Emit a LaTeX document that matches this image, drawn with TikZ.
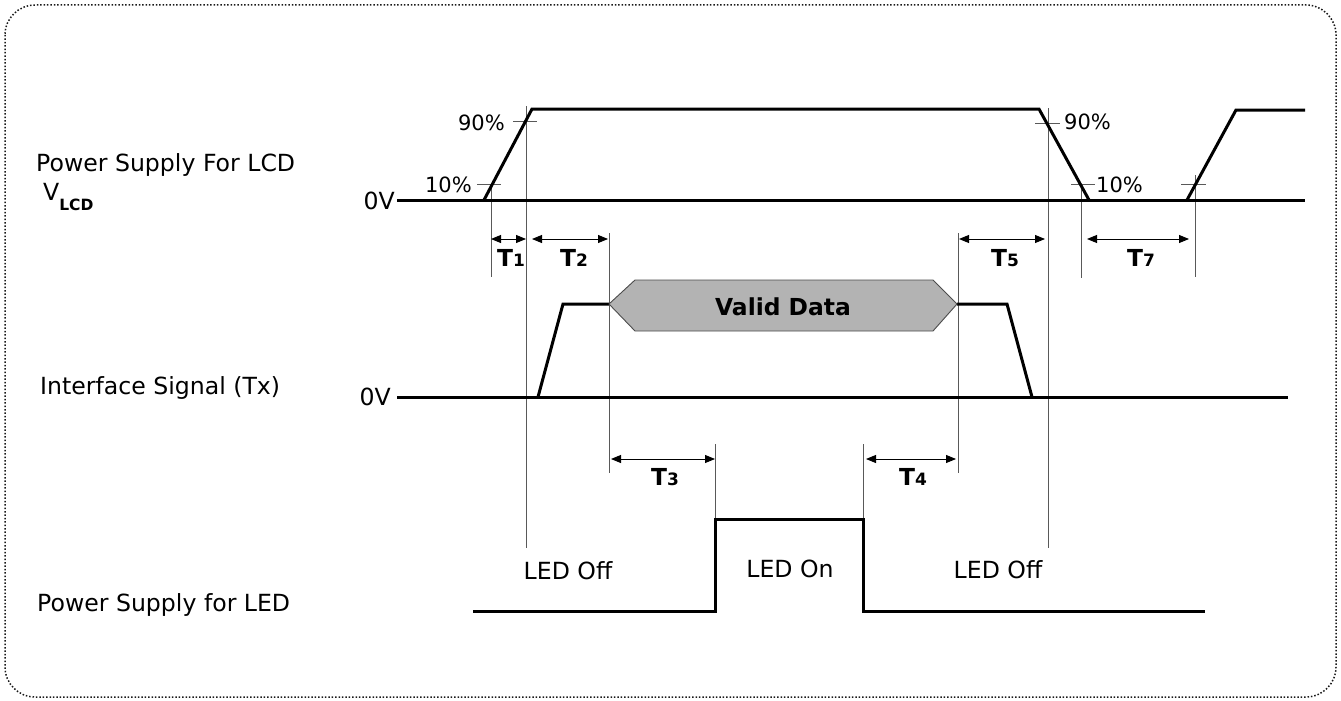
\documentclass[tikz,border=0pt]{standalone}
\usepackage{fontspec}
\setmainfont{DejaVu Sans}
\usetikzlibrary{arrows.meta}
\definecolor{datagray}{HTML}{B3B3B3}
\begin{document}
\begin{tikzpicture}[x=1pt,y=-1pt,
  wave/.style={line width=3pt, line join=miter, line cap=butt},
  guide/.style={line width=0.9pt, draw=black!65},
  dim/.style={line width=0.9pt, {Triangle[length=10pt,width=8pt]}-{Triangle[length=10pt,width=8pt]}},
  lbl/.style={font=\fontsize{23.6}{26}\selectfont, inner sep=0pt},
  pct/.style={font=\fontsize{21}{24}\selectfont, inner sep=0pt},
  tl/.style={font=\fontsize{23.4}{26}\selectfont\bfseries, inner sep=0pt}
]
\useasboundingbox (0,0) rectangle (1341,701);
\draw[black!90, line width=1.5pt, dash pattern=on 1.5pt off 1.9pt, rounded corners=30pt] (5,5) rectangle (1336,697);

% ---- left labels
\node[lbl, anchor=base west] (lcdlabel) at (36,171) {Power Supply For LCD};
\node[lbl, anchor=base west] (vlcd) at (43,200) {V\raisebox{-10pt}{\fontsize{15.5}{18}\selectfont\bfseries LCD}};
\node[lbl, anchor=base west] (iflabel) at (40,394) {Interface Signal (Tx)};
\node[lbl, anchor=base west] (ledlabel) at (37,611) {Power Supply for LED};

% ---- 0V labels
\node[lbl, anchor=base east] (zv1) at (395,209) {0V};
\node[lbl, anchor=base east] (zv2) at (391,405) {0V};

% ---- percentage labels
\node[pct, anchor=base east] (p90a) at (505,130) {90\%};
\node[pct, anchor=base east] (p10a) at (472,192) {10\%};
\node[pct, anchor=base west] (p90b) at (1064,129) {90\%};
\node[pct, anchor=base west] (p10b) at (1096,192) {10\%};

% ---- guide lines
\coordinate (g1t) at (491,184); \coordinate (g1b) at (491,277);
\coordinate (g2t) at (526,106); \coordinate (g2b) at (526,548);
\coordinate (g3t) at (609,233); \coordinate (g3b) at (609,473);
\coordinate (g4t) at (958,233); \coordinate (g4b) at (958,473);
\coordinate (g5t) at (1048,108); \coordinate (g5b) at (1048,548);
\coordinate (g6t) at (1081,184); \coordinate (g6b) at (1081,278);
\coordinate (g7t) at (1195,175); \coordinate (g7b) at (1195,277);
\coordinate (g8t) at (715,444); \coordinate (g8b) at (715,519);
\coordinate (g9t) at (863,444); \coordinate (g9b) at (863,519);
\foreach \g in {g1,g2,g3,g4,g5,g6,g7,g8,g9} \draw[guide] (\g t) -- (\g b);

% ---- ticks
\draw[guide] (477,184) -- (501,184);
\draw[guide] (513,121) -- (537,121);
\draw[guide] (1035,123) -- (1060,123);
\draw[guide] (1071,184) -- (1095,184);
\draw[guide] (1181,184) -- (1206,184);

% ---- dimension arrows
\coordinate (a1l) at (491,239); \coordinate (a1r) at (526,239);
\coordinate (a2l) at (532,239); \coordinate (a2r) at (608,239);
\coordinate (a5l) at (959,239); \coordinate (a5r) at (1045,239);
\coordinate (a7l) at (1087,239); \coordinate (a7r) at (1189,239);
\coordinate (a3l) at (611,459); \coordinate (a3r) at (715,459);
\coordinate (a4l) at (866,459); \coordinate (a4r) at (956,459);
\draw[dim] (a1l) -- (a1r);
\draw[dim] (a2l) -- (a2r);
\draw[dim] (a5l) -- (a5r);
\draw[dim] (a7l) -- (a7r);
\draw[dim] (a3l) -- (a3r);
\draw[dim] (a4l) -- (a4r);

\newcommand{\tlab}[1]{T{\fontsize{17}{20}\selectfont #1}}
\node[tl, anchor=base] (t1) at (511,266) {\tlab{1}};
\node[tl, anchor=base] (t2) at (574,266) {\tlab{2}};
\node[tl, anchor=base] (t5) at (1005,266) {\tlab{5}};
\node[tl, anchor=base] (t7) at (1141,266) {\tlab{7}};
\node[tl, anchor=base] (t3) at (665,485) {\tlab{3}};
\node[tl, anchor=base] (t4) at (913,485) {\tlab{4}};

% ---- LCD supply waveform
\draw[wave] (397,200) -- (1305,200);
\draw[wave] (484,200) -- (532,109) -- (1039,109) -- (1089,200);
\draw[wave] (1187,200) -- (1236,110) -- (1305,110);

% ---- interface signal
\draw[wave] (397,397) -- (1288,397);
\draw[wave] (538,397) -- (563,304) -- (609,304);
\draw[wave] (957,304) -- (1007,304) -- (1032,397);
\draw[fill=datagray, draw=black!70, line width=0.9pt]
  (609,304) -- (635,280) -- (933,280) -- (957,304) -- (933,331) -- (635,331) -- cycle;
\node[tl, anchor=base] (valid) at (783,315) {Valid Data};

% ---- LED supply
\draw[wave] (473,611) -- (715,611) -- (715,519) -- (863,519) -- (863,611) -- (1205,611);
\node[lbl, anchor=base] (ledoff1) at (568,579) {LED Off};
\node[lbl, anchor=base] (ledon) at (790,577) {LED On};
\node[lbl, anchor=base] (ledoff2) at (998,578) {LED Off};
\end{tikzpicture}
\end{document}
